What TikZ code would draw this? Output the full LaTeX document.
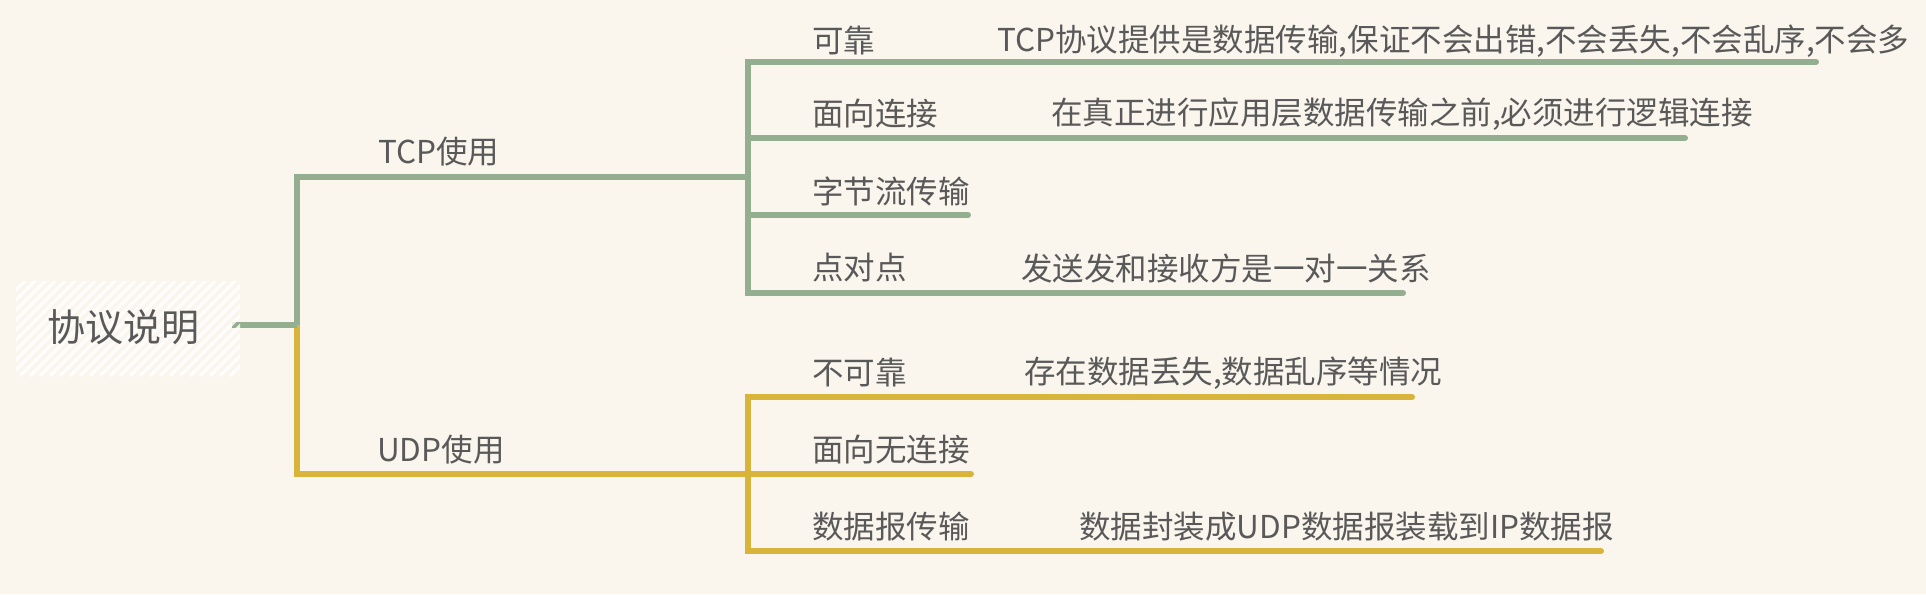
\documentclass[tikz,border=0pt]{standalone}
\usepackage{fontspec}
\setmainfont{Noto Sans CJK SC}
\definecolor{bg}{HTML}{FAF6EE}
\definecolor{grn}{HTML}{94AF90}
\definecolor{ylw}{HTML}{D9B43A}
\definecolor{txt}{HTML}{595959}
\begin{document}
\begin{tikzpicture}[x=1pt,y=-1pt,
  lbl/.style={anchor=west,inner sep=0pt,text=txt,font=\fontsize{31.5}{36}\selectfont},
  rootlbl/.style={anchor=center,inner sep=0pt,text=txt,font=\fontsize{38}{44}\selectfont},
  gline/.style={draw=grn,line width=6pt,line cap=round,line join=miter},
  yline/.style={draw=ylw,line width=6pt,line cap=round,line join=miter}]
\fill[bg] (0,0) rectangle (1926,594);
\useasboundingbox (0,0) rectangle (1926,594);
% coordinates
\coordinate (rootE) at (232,325);
\coordinate (tj) at (297,325);
\coordinate (tcpA) at (297,177);
\coordinate (tcpB) at (748,177);
\coordinate (udpA) at (297,474);
\coordinate (udpB) at (748,474);
\coordinate (t1a) at (748,62);   \coordinate (t1b) at (1816,62);
\coordinate (t2a) at (748,138);  \coordinate (t2b) at (1685,138);
\coordinate (t3a) at (748,215);  \coordinate (t3b) at (968,215);
\coordinate (t4a) at (748,293);  \coordinate (t4b) at (1403,293);
\coordinate (u1a) at (748,397);  \coordinate (u1b) at (1412,397);
\coordinate (u2b) at (971,474);
\coordinate (u3a) at (748,551);  \coordinate (u3b) at (1601,551);
% connectors
\draw[yline,line cap=butt] (tj) -- (udpA) -- (udpB);
\draw[gline,line cap=butt] (rootE) -- (tj);
\draw[gline,line cap=butt] (tj) -- (tcpA) -- (tcpB);
\draw[gline] (t1b) -- (t1a) -- (t4a) -- (t4b);
\draw[gline] (t2a) -- (t2b);
\draw[gline] (t3a) -- (t3b);
\draw[yline] (u1b) -- (u1a) -- (u3a) -- (u3b);
\draw[yline] (udpB) -- (u2b);
% hatched root box
\begin{scope}
\clip (16,281) rectangle (240,376);
\foreach \i in {-12,...,26} \draw[white,opacity=0.8,line width=3.5pt] (\i*10,376) -- ++(100,-100);
\end{scope}
\node[rootlbl] (root) at (123,327) {协议说明};
% labels
\node[lbl] (tcp) at (378,152) {TCP使用};
\node[lbl] (udp) at (377,450) {UDP使用};
\node[lbl] (c1) at (812,41) {可靠};
\node[lbl] (d1) at (997,41) {TCP协议提供是数据传输,保证不会出错,不会丢失,不会乱序,不会多};
\node[lbl] (c2) at (812,114) {面向连接};
\node[lbl] (d2) at (1051,114) {在真正进行应用层数据传输之前,必须进行逻辑连接};
\node[lbl] (c3) at (812,191) {字节流传输};
\node[lbl] (c4) at (812,268) {点对点};
\node[lbl] (d4) at (1021,268) {发送发和接收方是一对一关系};
\node[lbl] (u1) at (812,373) {不可靠};
\node[lbl] (e1) at (1024,373) {存在数据丢失,数据乱序等情况};
\node[lbl] (u2) at (812,450) {面向无连接};
\node[lbl] (u3) at (812,527) {数据报传输};
\node[lbl] (e3) at (1079,527) {数据封装成UDP数据报装载到IP数据报};
\end{tikzpicture}
\end{document}
